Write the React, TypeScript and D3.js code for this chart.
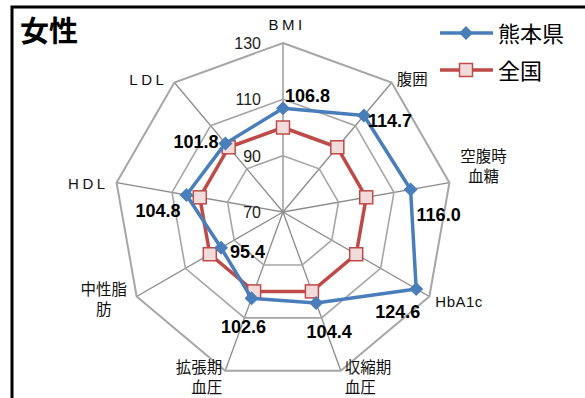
import React from 'react';
import * as d3 from 'd3';

const categories = ['BMI', '腹囲', '空腹時\n血糖', 'HbA1c', '収縮期\n血圧', '拡張期\n血圧', '中性脂\n肪', 'HDL', 'LDL'];
const kumamoto = [106.8, 114.7, 116.0, 124.6, 104.4, 102.6, 95.4, 104.8, 101.8];
const national = [100, 100, 100, 100, 100, 100, 100, 100, 100];
const ticks = [70, 90, 110, 130];
const seriesNames = ['熊本県', '全国'];

const COLORS = { blue: '#4a7ebb', red: '#be4b48', markerFill: '#f2dcdb', grid: '#a6a6a6', spoke: '#8c8c8c' };

// label placement tweaks (px) relative to the axis end / data point
const CAT_OFFSETS: [number, number, string][] = [
  [4, -13, 'middle'], [5, 2, 'start'], [34, -21, 'middle'], [6, 10, 'start'],
  [4, 2, 'start'], [-3, 2, 'end'], [-33, -2, 'middle'], [-8, 6, 'end'], [-7, 2, 'end'],
];
const VAL_OFFSETS: [number, number, string][] = [
  [2, -6, 'start'], [4, 11, 'start'], [6, 31, 'start'], [4, 29, 'end'],
  [13, 35, 'middle'], [-8, 35, 'middle'], [9, 10, 'start'], [-6, 22, 'end'], [-7, 5, 'end'],
];

const cx = 283;
const cy = 212;
const R = 169;

export default function App() {
  const r = d3.scaleLinear().domain([70, 130]).range([0, R]);
  const angle = d3.scaleLinear().domain([0, categories.length]).range([0, 2 * Math.PI]);
  const pt = (i: number, v: number): [number, number] => {
    const a = angle(i);
    return [cx + r(v) * Math.sin(a), cy - r(v) * Math.cos(a)];
  };
  const line = d3.line<number>().x((v, i) => pt(i, v)[0]).y((v, i) => pt(i, v)[1]).curve(d3.curveLinearClosed);
  const ringPath = (t: number) => line(categories.map(() => t)) as string;

  const numFont = '"Liberation Sans", Arial, sans-serif';
  const narrowFont = '"Liberation Sans Narrow", "Liberation Sans", Arial, sans-serif';
  const jpFont = '"Noto Sans CJK JP", "Noto Sans", sans-serif';

  return (
    <div style={{ position: 'fixed', left: 0, top: 0 }}>
      <svg width={585} height={398} style={{ display: 'block', background: '#fff' }}>
        <rect x={12} y={7} width={620} height={440} fill="#fff" stroke="#000" strokeWidth={3} />
        <text x={20} y={42} fontFamily={jpFont} fontWeight="bold" fontSize={29} fill="#000">女性</text>

        {/* spokes */}
        {categories.map((c, i) => {
          const [x, y] = pt(i, 130);
          return <line key={'s' + i} x1={cx} y1={cy} x2={x} y2={y} stroke={COLORS.spoke} strokeWidth={1.3} />;
        })}
        {/* rings */}
        {ticks.slice(1).map(t => (
          <path key={'r' + t} d={ringPath(t)} fill="none" stroke={COLORS.grid} strokeWidth={t === 130 ? 2 : 1.6} />
        ))}
        {/* tick labels */}
        {ticks.map(t => (
          <text key={'t' + t} x={cx - 22} y={pt(0, t)[1] + 6} textAnchor="end" fontFamily={numFont} fontSize={16} fill="#222">{t}</text>
        ))}

        {/* category labels */}
        {categories.map((c, i) => {
          const [x, y] = pt(i, 130);
          const [dx, dy, anchor] = CAT_OFFSETS[i];
          const lines = c.split('\n');
          const latin = /^[A-Za-z0-9]+$/.test(c);
          const spaced = latin && c !== 'HbA1c';
          return (
            <text key={'c' + i} x={x + dx} y={y + dy} textAnchor={anchor as any}
              fontFamily={spaced ? narrowFont : latin ? numFont : jpFont} fontSize={latin ? 15 : 15.5} fill="#111"
              letterSpacing={spaced ? 3.5 : c === 'HbA1c' ? 0.5 : 0}>
              {lines.map((l, j) => <tspan key={j} x={x + dx} dy={j === 0 ? 0 : 20}>{l}</tspan>)}
            </text>
          );
        })}

        {/* national series */}
        <path d={line(national) as string} fill="none" stroke={COLORS.red} strokeWidth={3.5} strokeLinejoin="round" />
        {national.map((v, i) => {
          const [x, y] = pt(i, v);
          return <rect key={'n' + i} x={x - 6.5} y={y - 6.5} width={13} height={13} fill={COLORS.markerFill} stroke={COLORS.red} strokeWidth={1.5} />;
        })}

        {/* kumamoto series */}
        <path d={line(kumamoto) as string} fill="none" stroke={COLORS.blue} strokeWidth={3.5} strokeLinejoin="round" />
        {kumamoto.map((v, i) => {
          const [x, y] = pt(i, v);
          return <path key={'k' + i} d={`M${x},${y - 7}L${x + 7},${y}L${x},${y + 7}L${x - 7},${y}Z`} fill={COLORS.blue} />;
        })}

        {/* value labels */}
        {kumamoto.map((v, i) => {
          const [x, y] = pt(i, v);
          const [dx, dy, anchor] = VAL_OFFSETS[i];
          return (
            <text key={'v' + i} x={x + dx} y={y + dy} textAnchor={anchor as any} fontFamily={numFont}
              fontWeight="bold" fontSize={18} fill="#000">{v.toFixed(1)}</text>
          );
        })}

        {/* legend */}
        {seriesNames.map((s, i) => {
          const y = 33 + i * 37;
          const col = i === 0 ? COLORS.blue : COLORS.red;
          return (
            <g key={'l' + i}>
              <line x1={440} x2={493} y1={y} y2={y} stroke={col} strokeWidth={3.5} />
              {i === 0
                ? <path d={`M466,${y - 7}L473,${y}L466,${y + 7}L459,${y}Z`} fill={col} />
                : <rect x={459.5} y={y - 6.5} width={13} height={13} fill={COLORS.markerFill} stroke={col} strokeWidth={1.5} />}
              <text x={498} y={y + 9} fontFamily={jpFont} fontSize={22} fill="#000">{s}</text>
            </g>
          );
        })}
      </svg>
    </div>
  );
}
